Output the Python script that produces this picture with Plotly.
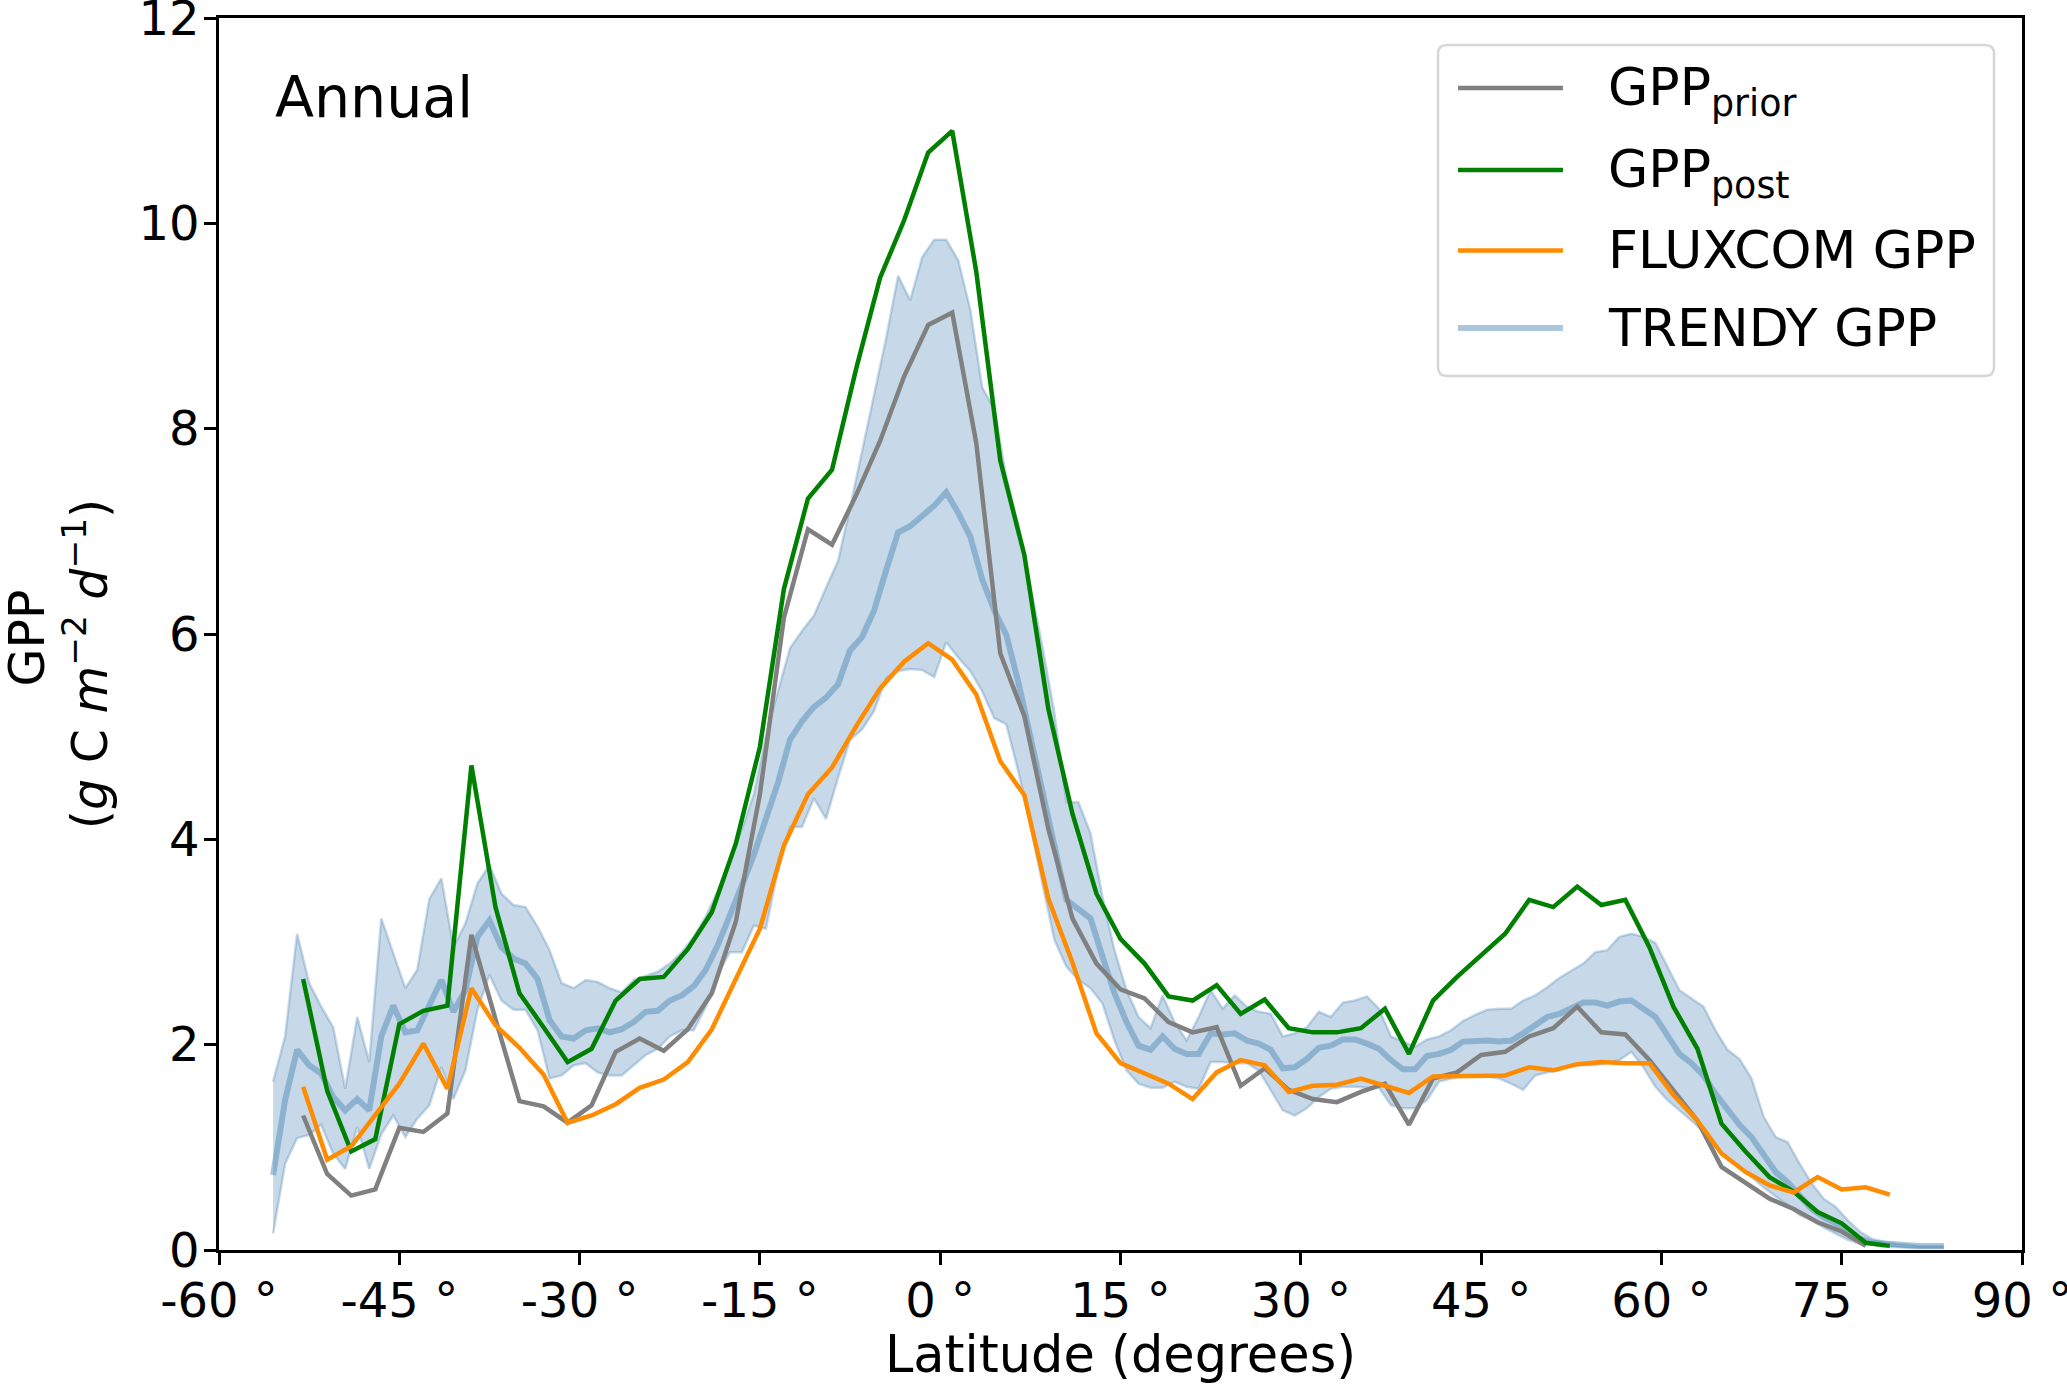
import plotly.graph_objects as go

# ---------------- data ----------------
lat_post = list(range(-53, 80, 2))
gpp_post = [2.64, 1.55, 0.96, 1.08, 2.20, 2.33, 2.38, 4.72, 3.34, 2.50,
            2.17, 1.83, 1.96, 2.43, 2.64, 2.66, 2.93, 3.29, 3.96, 4.90,
            6.44, 7.32, 7.60, 8.58, 9.47, 10.03, 10.69, 10.90, 9.53, 7.69,
            6.77, 5.27, 4.25, 3.47, 3.03, 2.79, 2.47, 2.43, 2.58, 2.30,
            2.44, 2.16, 2.12, 2.12, 2.16, 2.35, 1.91, 2.43, 2.66, 2.87,
            3.08, 3.41, 3.34, 3.54, 3.36, 3.41, 2.95, 2.37, 1.96, 1.23,
            0.96, 0.71, 0.57, 0.37, 0.26, 0.07, 0.04]

lat_prior = list(range(-53, 78, 2))
gpp_prior = [1.31, 0.74, 0.53, 0.59, 1.19, 1.15, 1.33, 3.07, 2.25, 1.45,
             1.40, 1.24, 1.41, 1.93, 2.06, 1.94, 2.15, 2.50, 3.20, 4.44,
             6.16, 7.02, 6.87, 7.35, 7.88, 8.51, 9.01, 9.13, 7.86, 5.81,
             5.20, 4.10, 3.23, 2.79, 2.54, 2.45, 2.22, 2.12, 2.17, 1.60,
             1.77, 1.56, 1.47, 1.44, 1.54, 1.62, 1.22, 1.67, 1.73, 1.90,
             1.93, 2.08, 2.16, 2.37, 2.12, 2.10, 1.85, 1.56, 1.26, 0.81,
             0.65, 0.50, 0.40, 0.27, 0.18, 0.04]

lat_fluxcom = list(range(-53, 80, 2))
gpp_fluxcom = [1.59, 0.88, 1.01, 1.31, 1.62, 2.01, 1.57, 2.55, 2.19, 1.97,
               1.71, 1.24, 1.31, 1.42, 1.58, 1.66, 1.83, 2.15, 2.64, 3.13,
               3.94, 4.44, 4.70, 5.10, 5.47, 5.73, 5.91, 5.75, 5.41, 4.76,
               4.43, 3.42, 2.80, 2.11, 1.82, 1.72, 1.62, 1.47, 1.73, 1.85,
               1.80, 1.54, 1.60, 1.61, 1.67, 1.60, 1.53, 1.69, 1.69, 1.70,
               1.70, 1.78, 1.75, 1.81, 1.83, 1.82, 1.82, 1.51, 1.26, 0.94,
               0.76, 0.63, 0.56, 0.71, 0.59, 0.61, 0.54]

lat_trendy = [v + 0.5 for v in range(-56, 84)]
trendy_upper = [1.64, 2.08, 3.08, 2.60, 2.37, 2.17, 1.57, 2.27, 1.83, 3.23,
                2.89, 2.55, 2.73, 3.42, 3.62, 2.95, 3.18, 3.57, 3.75, 3.47,
                3.36, 3.34, 3.15, 2.92, 2.60, 2.55, 2.63, 2.61, 2.55, 2.51,
                2.63, 2.67, 2.71, 2.79, 2.90, 3.05, 3.25, 3.50, 3.80, 4.10,
                4.44, 5.01, 5.44, 5.86, 6.03, 6.18, 6.45, 6.71, 7.23, 7.79,
                8.32, 8.88, 9.49, 9.25, 9.67, 9.84, 9.84, 9.64, 9.16, 8.40,
                8.19, 7.53, 7.05, 6.45, 5.88, 5.23, 4.36, 4.36, 4.06, 3.44,
                2.92, 2.53, 2.27, 2.16, 2.48, 2.22, 2.04, 2.27, 2.53, 2.35,
                2.48, 2.37, 2.32, 2.30, 2.08, 2.11, 2.17, 2.32, 2.27, 2.41,
                2.43, 2.47, 2.35, 2.08, 2.03, 1.98, 2.05, 2.08, 2.14, 2.23,
                2.29, 2.34, 2.35, 2.35, 2.43, 2.48, 2.56, 2.65, 2.72, 2.79,
                2.90, 2.92, 3.05, 3.08, 3.05, 2.99, 2.76, 2.53, 2.45, 2.37,
                2.14, 1.95, 1.86, 1.67, 1.30, 1.10, 1.05, 0.84, 0.65, 0.50,
                0.42, 0.29, 0.18, 0.11, 0.08, 0.06, 0.05, 0.04, 0.04, 0.04]
trendy_mean = [0.73, 1.46, 1.95, 1.80, 1.72, 1.49, 1.36, 1.47, 1.36, 2.08,
               2.38, 2.12, 2.14, 2.38, 2.63, 2.32, 2.53, 3.05, 3.21, 2.95,
               2.84, 2.79, 2.64, 2.24, 2.08, 2.06, 2.14, 2.16, 2.12, 2.15,
               2.22, 2.32, 2.33, 2.43, 2.48, 2.57, 2.73, 2.97, 3.25, 3.55,
               3.85, 4.18, 4.55, 4.97, 5.15, 5.29, 5.38, 5.51, 5.84, 5.97,
               6.23, 6.62, 6.99, 7.05, 7.16, 7.25, 7.38, 7.18, 6.95, 6.53,
               6.23, 5.99, 5.53, 5.00, 4.44, 3.92, 3.41, 3.32, 3.23, 2.86,
               2.50, 2.22, 1.99, 1.95, 2.08, 1.96, 1.91, 1.91, 2.11, 2.10,
               2.11, 2.04, 2.01, 1.95, 1.77, 1.78, 1.86, 1.97, 1.99, 2.05,
               2.05, 2.01, 1.96, 1.85, 1.76, 1.76, 1.89, 1.91, 1.95, 2.03,
               2.04, 2.04, 2.03, 2.04, 2.11, 2.19, 2.27, 2.30, 2.35, 2.41,
               2.41, 2.38, 2.42, 2.43, 2.35, 2.27, 2.09, 1.91, 1.82, 1.70,
               1.52, 1.36, 1.22, 1.10, 0.92, 0.76, 0.66, 0.53, 0.40, 0.32,
               0.26, 0.18, 0.11, 0.07, 0.06, 0.05, 0.04, 0.04, 0.04, 0.04]
trendy_lower = [0.16, 0.84, 1.09, 1.12, 1.22, 0.94, 0.79, 1.20, 0.79, 1.13,
                1.31, 1.10, 1.28, 1.41, 1.78, 1.47, 1.75, 2.34, 2.68, 2.43,
                2.34, 2.34, 2.14, 1.67, 1.70, 1.80, 1.82, 1.73, 1.70, 1.70,
                1.80, 1.90, 1.96, 2.08, 2.14, 2.14, 2.37, 2.69, 2.90, 2.90,
                3.16, 3.13, 3.70, 4.12, 4.12, 4.40, 4.20, 4.60, 4.97, 5.07,
                5.25, 5.57, 5.64, 5.66, 5.65, 5.58, 5.92, 5.77, 5.64, 5.44,
                5.18, 5.12, 4.66, 4.14, 3.57, 3.02, 2.76, 2.63, 2.55, 2.40,
                2.04, 1.75, 1.62, 1.58, 1.58, 1.64, 1.59, 1.57, 1.83, 1.83,
                1.82, 1.82, 1.75, 1.56, 1.36, 1.31, 1.38, 1.49, 1.57, 1.59,
                1.59, 1.58, 1.58, 1.41, 1.38, 1.38, 1.46, 1.64, 1.67, 1.70,
                1.70, 1.69, 1.67, 1.62, 1.56, 1.70, 1.73, 1.75, 1.80, 1.80,
                1.80, 1.82, 1.85, 1.93, 1.78, 1.59, 1.46, 1.36, 1.26, 1.15,
                1.00, 0.89, 0.81, 0.71, 0.61, 0.52, 0.44, 0.34, 0.29, 0.22,
                0.16, 0.10, 0.06, 0.05, 0.03, 0.03, 0.02, 0.02, 0.02, 0.02]

x_ticks = list(range(-60, 91, 15))
x_ticktext = [f"{v} °" for v in x_ticks]
y_ticks = list(range(0, 13, 2))

legend_labels = ["GPP<sub>prior</sub>", "GPP<sub>post</sub>", "FLUXCOM GPP", "TRENDY GPP"]

# ---------------- styles ----------------
band_col = "rgba(70,130,180,0.3)"
mean_col = "rgba(70,130,180,0.45)"
legend_colors = ["#808080", "#008000", "#ff8c00", mean_col]

fig = go.Figure()
fig.add_trace(go.Scatter(x=lat_trendy, y=trendy_lower, mode="lines",
                         line=dict(color=band_col, width=2.5),
                         showlegend=False, hoverinfo="skip"))
fig.add_trace(go.Scatter(x=lat_trendy, y=trendy_upper, mode="lines",
                         line=dict(color=band_col, width=2.5),
                         fill="tonexty", fillcolor=band_col,
                         showlegend=False, hoverinfo="skip"))
fig.add_trace(go.Scatter(x=lat_trendy, y=trendy_mean, mode="lines",
                         line=dict(color=mean_col, width=6),
                         name="TRENDY GPP", showlegend=False))
fig.add_trace(go.Scatter(x=lat_prior, y=gpp_prior, mode="lines",
                         line=dict(color="#808080", width=4.5),
                         name="GPP prior", showlegend=False))
fig.add_trace(go.Scatter(x=lat_post, y=gpp_post, mode="lines",
                         line=dict(color="#008000", width=4.5),
                         name="GPP post", showlegend=False))
fig.add_trace(go.Scatter(x=lat_fluxcom, y=gpp_fluxcom, mode="lines",
                         line=dict(color="#ff8c00", width=4.5),
                         name="FLUXCOM GPP", showlegend=False))

axis_common = dict(showline=True, linecolor="black", linewidth=2.5, mirror=True,
                   ticks="outside", ticklen=12, tickwidth=2.5, tickcolor="black",
                   showgrid=False, zeroline=False, ticklabeloverflow="allow",
                   ticklabelstandoff=-5, automargin=False,
                   tickfont=dict(size=48, color="black"))

fig.update_xaxes(range=[-60, 90], tickvals=x_ticks, ticktext=x_ticktext,
                 title=dict(text="Latitude (degrees)", font=dict(size=51), standoff=10),
                 **axis_common)
fig.update_yaxes(range=[0, 12], tickvals=y_ticks, **axis_common)

# y-axis title (two rotated lines, as in the reference)
fig.add_annotation(text="GPP", xref="paper", yref="paper", x=-0.1065, y=0.4972,
                   xanchor="center", yanchor="middle", textangle=-90,
                   showarrow=False, font=dict(size=49, color="black"))
fig.add_annotation(text="(<i>g</i> C <i>m</i><sup>−2</sup> <i>d</i><sup>−1</sup>)",
                   xref="paper", yref="paper", x=-0.0737, y=0.4756,
                   xanchor="center", yanchor="middle", textangle=-90,
                   showarrow=False, font=dict(size=49, color="black"))

fig.add_annotation(text="Annual", xref="paper", yref="paper", x=0.030, y=0.936,
                   xanchor="left", yanchor="middle", showarrow=False,
                   font=dict(size=57, color="black"))

# ---------------- legend (drawn like the reference: long samples, rounded box) ----------------
bx0, bx1, by0, by1 = 0.6761, 0.9845, 0.7094, 0.9781
rx, ry = 9 / 1803, 9 / 1232
box_path = (f"M {bx0+rx},{by0} L {bx1-rx},{by0} Q {bx1},{by0} {bx1},{by0+ry} "
            f"L {bx1},{by1-ry} Q {bx1},{by1} {bx1-rx},{by1} "
            f"L {bx0+rx},{by1} Q {bx0},{by1} {bx0},{by1-ry} "
            f"L {bx0},{by0+ry} Q {bx0},{by0} {bx0+rx},{by0} Z")
fig.add_shape(type="path", path=box_path, xref="paper", yref="paper",
              line=dict(color="#d6d6d6", width=2.5), fillcolor="rgba(255,255,255,0.8)")
row_y = [0.9432, 0.8766, 0.8113, 0.7484]
for lab, col, yy in zip(legend_labels, legend_colors, row_y):
    fig.add_shape(type="line", xref="paper", yref="paper", x0=0.6872, x1=0.7454,
                  y0=yy, y1=yy, line=dict(color=col, width=4.5 if col != mean_col else 6))
    has_sub = "<sub>" in lab
    fig.add_annotation(text=lab, xref="paper", yref="paper", x=0.7690, y=yy,
                       xanchor="left", yanchor="middle", showarrow=False,
                       yshift=-3 if has_sub else 0,
                       font=dict(size=52, color="black"))

fig.update_layout(
    width=2067, height=1384,
    margin=dict(l=219, r=45, t=18, b=134),
    plot_bgcolor="white", paper_bgcolor="white",
    font=dict(family="DejaVu Sans", color="black"),
    showlegend=False,
)

fig.write_html("out.html", config={"displayModeBar": False},
               post_script="document.body.style.margin='0px';")
